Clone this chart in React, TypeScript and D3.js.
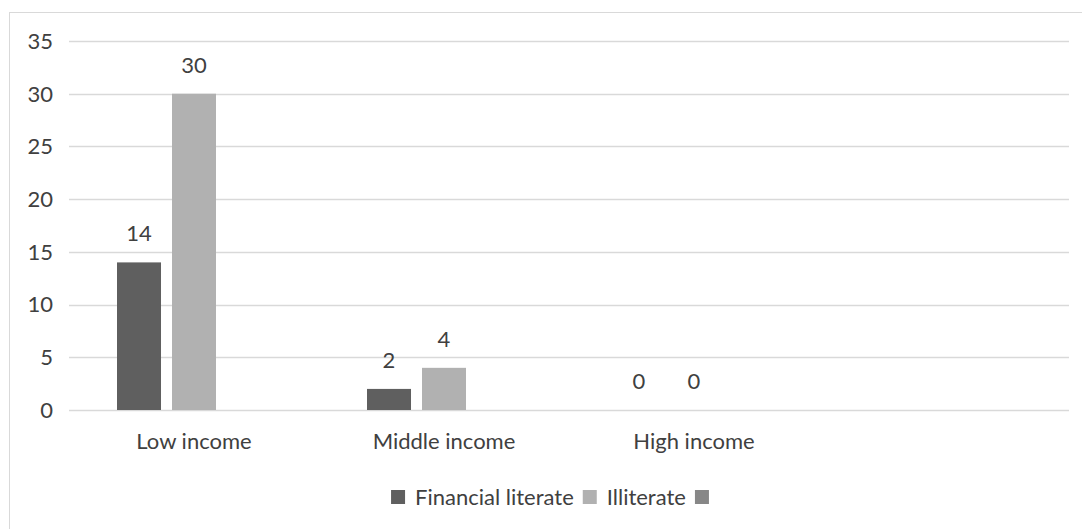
import React, { useEffect, useRef } from "react";
import * as d3 from "d3";

const categories = ["Low income", "Middle income", "High income", ""];
const seriesNames = ["Financial literate", "Illiterate", ""];
const financialLiterate: (number | null)[] = [14, 2, 0, null];
const illiterate: (number | null)[] = [30, 4, 0, null];
const thirdSeries: (number | null)[] = [null, null, null, null];
const yTicks = [0, 5, 10, 15, 20, 25, 30, 35];
const colors = ["#5f5f5f", "#b1b1b1", "#878787"];

const W = 1082;
const H = 529;
const FONT = "Lato, 'Open Sans', sans-serif";
const FS = 22;
const TEXT = "#404040";

export default function App() {
  const ref = useRef<SVGSVGElement>(null);
  useEffect(() => {
    const svg = d3.select(ref.current);
    svg.selectAll("*").remove();
    const series = [financialLiterate, illiterate, thirdSeries];

    // chart border
    svg.append("rect").attr("x", 9.5).attr("y", 12.5).attr("width", W).attr("height", H)
      .attr("fill", "#fff").attr("stroke", "#d9d9d9").attr("stroke-width", 1);

    const x = d3.scaleBand<string>().domain(categories.map((c, i) => String(i))).range([69, 1069]).padding(0);
    const xs = d3.scaleBand<string>().domain(seriesNames.map((s, i) => String(i)))
      .range([0, x.bandwidth()]).paddingInner(0.2).paddingOuter(0.873);
    const y = d3.scaleLinear().domain([0, 35]).range([410, 41]);

    // gridlines
    svg.append("g").selectAll("line").data(yTicks).join("line")
      .attr("x1", 69).attr("x2", 1069)
      .attr("y1", (d) => Math.round(y(d)) + 0.5).attr("y2", (d) => Math.round(y(d)) + 0.5)
      .attr("stroke", "#d9d9d9").attr("stroke-width", 1.3);

    // y tick labels
    svg.append("g").selectAll("text").data(yTicks).join("text")
      .attr("x", 53).attr("y", (d) => y(d)).attr("dy", "0.36em")
      .attr("text-anchor", "end").attr("font-family", FONT).attr("font-size", FS)
      .attr("fill", TEXT).text((d) => String(d));

    // bars & labels
    series.forEach((vals, si) => {
      const g = svg.append("g");
      vals.forEach((v, ci) => {
        if (v === null) return;
        const bx = (x(String(ci)) as number) + (xs(String(si)) as number);
        g.append("rect").attr("x", bx).attr("width", xs.bandwidth())
          .attr("y", y(v)).attr("height", y(0) - y(v)).attr("fill", colors[si]);
        g.append("text").attr("x", bx + xs.bandwidth() / 2).attr("y", y(v) - 21)
          .attr("text-anchor", "middle").attr("font-family", FONT).attr("font-size", FS)
          .attr("fill", TEXT).text(String(v));
      });
    });

    // category labels
    svg.append("g").selectAll("text").data(categories).join("text")
      .attr("x", (d, i) => (x(String(i)) as number) + x.bandwidth() / 2).attr("y", 449)
      .attr("text-anchor", "middle").attr("font-family", FONT).attr("font-size", FS)
      .attr("fill", TEXT).text((d) => d);

    // legend
    const lg = svg.append("g");
    let cx = 0;
    const sq = 14;
    seriesNames.forEach((name, i) => {
      lg.append("rect").attr("x", cx).attr("y", 490).attr("width", sq).attr("height", sq).attr("fill", colors[i]);
      cx += sq + 10;
      if (name) {
        const t = lg.append("text").attr("x", cx).attr("y", 505).attr("font-family", FONT)
          .attr("font-size", FS).attr("fill", TEXT).text(name);
        cx += (t.node() as SVGTextElement).getComputedTextLength() + 9;
      }
    });
    const total = cx - 10;
    lg.attr("transform", `translate(${550 - total / 2},0)`);
  }, []);
  return (
    <svg ref={ref} width={W} height={H} style={{ position: "absolute", left: 0, top: 0, background: "#fff" }} />
  );
}
